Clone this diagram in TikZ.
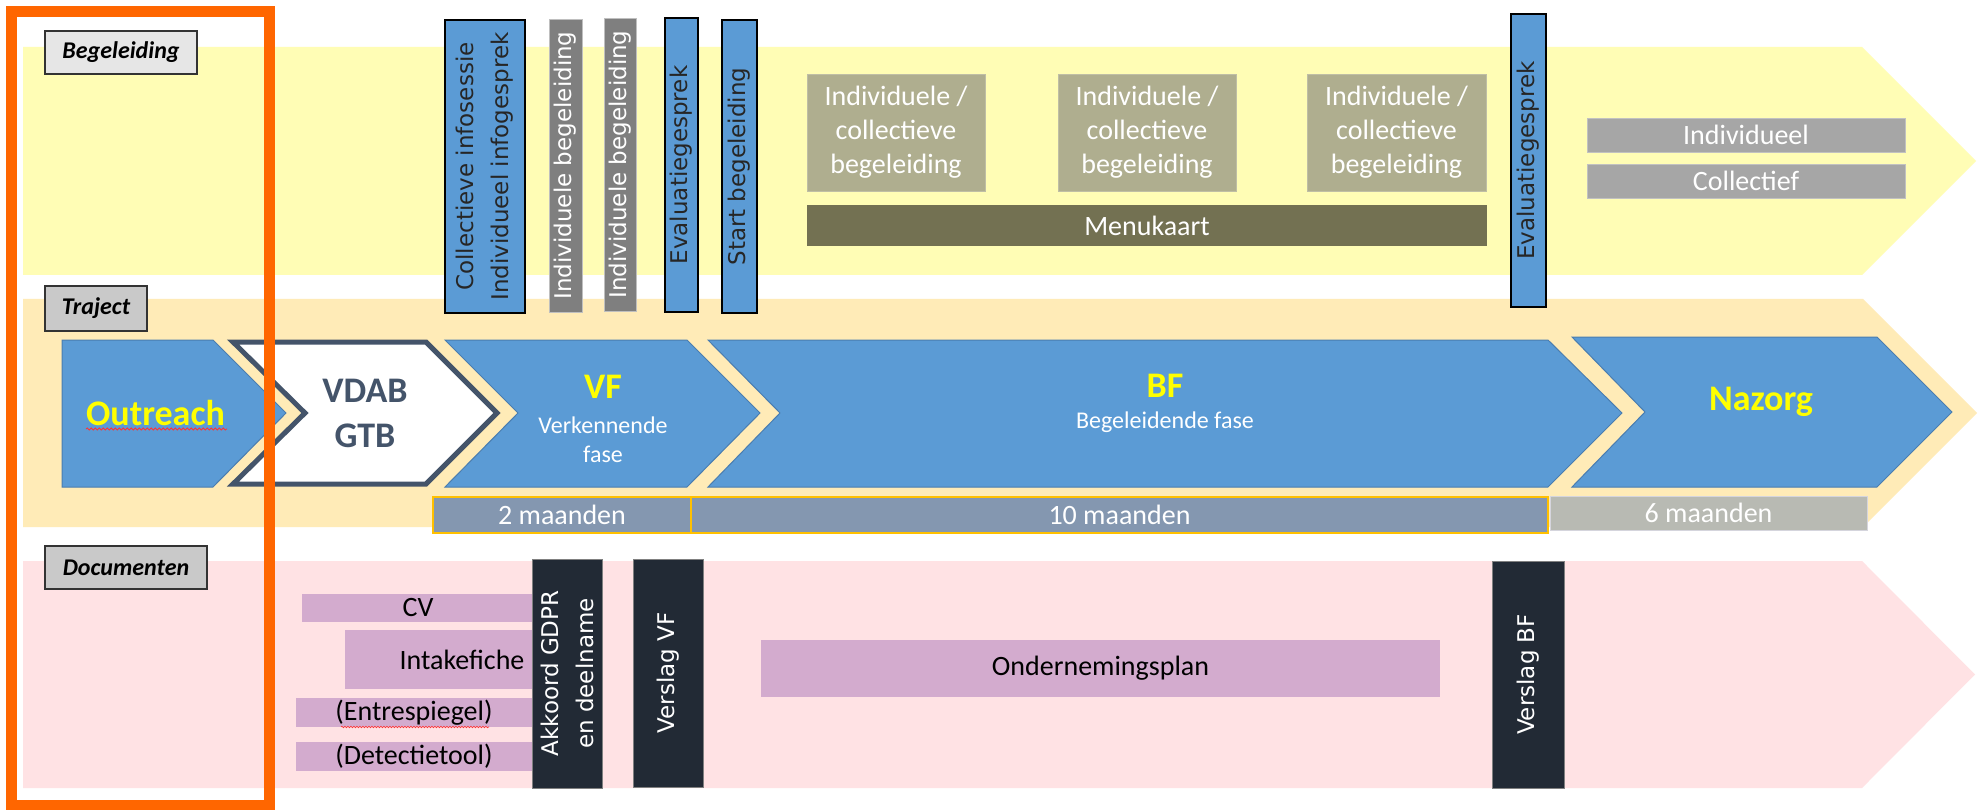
\documentclass[tikz,border=0pt]{standalone}
\usepackage{fontspec}
\setmainfont{Carlito}
\newfontfamily\vfont{DejaVu Sans}
\usetikzlibrary{decorations.pathmorphing}
\definecolor{ybandc}{HTML}{FFFDB5}
\definecolor{tbandc}{HTML}{FFEBB7}
\definecolor{dbandc}{HTML}{FFE2E4}
\definecolor{orangec}{HTML}{FF6600}
\definecolor{bluec}{HTML}{5B9BD5}
\definecolor{blueedge}{HTML}{4A7DB0}
\definecolor{slatec}{HTML}{44546A}
\definecolor{grayc}{HTML}{7F7F7F}
\definecolor{olivec}{HTML}{AFAE8F}
\definecolor{menuc}{HTML}{737152}
\definecolor{lgrayc}{HTML}{A6A6A6}
\definecolor{durc}{HTML}{8497B0}
\definecolor{goldc}{HTML}{FFC000}
\definecolor{dursix}{HTML}{B8BAB3}
\definecolor{purplec}{HTML}{D3ABCE}
\definecolor{darkc}{HTML}{222A35}
\definecolor{lblA}{HTML}{E6E6E6}
\definecolor{lblB}{HTML}{C9C9C9}
\definecolor{textdark}{HTML}{262626}
\definecolor{yelc}{HTML}{FFFF00}
\begin{document}
\begin{tikzpicture}[x=1pt,y=-1pt,
  lbl/.style={draw=black!80, line width=1.5pt, inner sep=0pt, font=\fontsize{24}{28}\selectfont\bfseries\itshape},
  chev/.style={fill=bluec, draw=blueedge, line width=1pt},
  head/.style={font=\fontsize{36}{44}\selectfont\bfseries, text=yelc, anchor=base},
  sub/.style={font=\fontsize{24}{29}\selectfont, text=white, anchor=base, align=center},
  vbar/.style={rotate=90, inner sep=0pt, align=center, font=\vfont\fontsize{23}{35}\selectfont},
  bluebar/.style={vbar, fill=bluec, draw=black, line width=1.5pt, text=textdark},
  graybar/.style={vbar, fill=grayc, draw=black!25, line width=0.8pt, text=white},
  darkbar/.style={vbar, fill=darkc, draw=black!50, line width=0.8pt, text=white},
  olive/.style={fill=olivec, draw=olivec!80!white, line width=0.8pt, inner sep=0pt, align=center, text=white, font=\fontsize{28}{34}\selectfont},
  lgbox/.style={fill=lgrayc, draw=lgrayc!70!white, line width=0.8pt, inner sep=0pt, text=white, font=\fontsize{28}{34}\selectfont},
  dur/.style={fill=durc, draw=goldc, line width=1.5pt, inner sep=0pt, text=white, font=\fontsize{28}{34}\selectfont},
  purp/.style={fill=purplec, inner sep=0pt, text=black, font=\fontsize{28}{34}\selectfont},
  wavy/.style={draw=red!80, line width=0.8pt, decorate, decoration={snake, amplitude=1pt, segment length=4pt}}
]
\useasboundingbox (0,0) rectangle (1986,810);
\fill[white] (0,0) rectangle (1986,810);

% bands
\fill[ybandc] (23,47) -- (1862,47) -- (1976,161) -- (1862,275) -- (23,275) -- cycle;
\fill[tbandc] (23,299) -- (1863,299) -- (1977,413) -- (1863,527) -- (23,527) -- cycle;
\fill[dbandc] (23,561) -- (1862,561) -- (1975,674.5) -- (1862,788) -- (23,788) -- cycle;

% labels
\node[lbl, fill=lblA, minimum width=152pt, minimum height=43pt] (lbeg) at (121,52.5) {Begeleiding};
\node[lbl, fill=lblB, minimum width=102pt, minimum height=45pt] (ltraj) at (96,308.5) {Traject};
\node[lbl, fill=lblB, minimum width=162pt, minimum height=43pt] (ldoc) at (126,567.5) {Documenten};

% chevrons
\path[chev] (62,340) -- (213,340) -- (286,413) -- (213,487) -- (62,487) -- cycle;
\path[fill=white, draw=slatec, line width=5pt, line join=miter] (233,342) -- (426,342) -- (497,413) -- (426,484) -- (233,484) -- (305,413) -- cycle;
\path[chev] (445,340) -- (687,340) -- (760,413) -- (687,487) -- (445,487) -- (518,413) -- cycle;
\path[chev] (708,340) -- (1548,340) -- (1622,413) -- (1548,487) -- (708,487) -- (780,413) -- cycle;
\path[chev] (1572,337) -- (1877,337) -- (1952,412) -- (1877,487) -- (1572,487) -- (1645,412) -- cycle;

\node[head] (outreach) at (155.5,425) {Outreach};
\draw[wavy] (86,429) -- (227,429);
\node[head, text=slatec] (vdab) at (365,402) {VDAB};
\node[head, text=slatec] (gtb) at (365,447) {GTB};
\node[head] (vf) at (603,398) {VF};
\node[sub] (vfsub) at (603,433) {Verkennende};
\node[sub] (vfsub2) at (603,462) {fase};
\node[head] (bf) at (1165,397) {BF};
\node[sub] (bfsub) at (1165,428) {Begeleidende fase};
\node[head] (nazorg) at (1761,410) {Nazorg};

% durations
\node[dur, minimum width=258pt, minimum height=36pt] (d2) at (562,515) {2 maanden};
\node[dur, minimum width=857pt, minimum height=36pt] (d10) at (1119.5,515) {10 maanden};
\node[fill=dursix, draw=blue!10!gray!30, line width=0.8pt, inner sep=0pt, text=white, font=\fontsize{28}{34}\selectfont, minimum width=317pt, minimum height=34pt] (d6) at (1708.5,513) {6 maanden};

% top vertical bars
\node[bluebar, minimum width=293pt, minimum height=80pt] (coll) at (485,166.5) {Collectieve infosessie\\Individueel infogesprek};
\node[graybar, minimum width=293pt, minimum height=33pt] (ib1) at (565.5,165.5) {Individuele begeleiding};
\node[graybar, minimum width=293pt, minimum height=32pt] (ib2) at (620,164.5) {Individuele begeleiding};
\node[bluebar, minimum width=294pt, minimum height=33pt] (eval1) at (681.5,165) {Evaluatiegesprek};
\node[bluebar, minimum width=293pt, minimum height=35pt] (start) at (739.5,166.5) {Start begeleiding};
\node[bluebar, minimum width=293pt, minimum height=35pt] (eval2) at (1528.5,160.5) {Evaluatiegesprek};

% olive boxes
\node[olive, minimum width=178pt, minimum height=117pt] (ic1) at (896,132.5) {Individuele /\\collectieve\\begeleiding};
\node[olive, minimum width=178pt, minimum height=117pt] (ic2) at (1147,132.5) {Individuele /\\collectieve\\begeleiding};
\node[olive, minimum width=179pt, minimum height=117pt] (ic3) at (1396.5,132.5) {Individuele /\\collectieve\\begeleiding};
\node[fill=menuc, inner sep=0pt, text=white, font=\fontsize{28}{34}\selectfont, minimum width=680pt, minimum height=41pt] (menu) at (1147,225.5) {Menukaart};
\node[lgbox, minimum width=318pt, minimum height=34pt] (indiv) at (1746,135) {Individueel};
\node[lgbox, minimum width=318pt, minimum height=34pt] (collf) at (1746,181) {Collectief};

% documents
\node[purp, minimum width=232pt, minimum height=28pt] (cv) at (418,608) {CV};
\node[purp, minimum width=234pt, minimum height=59pt] (intake) at (462,659.5) {Intakefiche};
\node[purp, minimum width=236pt, minimum height=29pt] (entre) at (414,712.5) {(Entrespiegel)};
\draw[wavy, line width=0.6pt, decoration={snake, amplitude=0.8pt, segment length=3pt}] (341,727) -- (489,727);
\node[purp, minimum width=236pt, minimum height=29pt] (detect) at (414,756.5) {(Detectietool)};
\node[darkbar, minimum width=229pt, minimum height=70pt] (akkoord) at (567,673.5) {Akkoord GDPR\\en deelname};
\node[darkbar, minimum width=228pt, minimum height=70pt] (vvf) at (668,673) {Verslag VF};
\node[purp, minimum width=679pt, minimum height=57pt] (plan) at (1100.5,668.5) {Ondernemingsplan};
\node[darkbar, minimum width=227pt, minimum height=72pt] (vbf) at (1528,674.5) {Verslag BF};

% orange frame
\draw[orangec, line width=11pt] (11.5,12) rectangle (269,805);
\end{tikzpicture}
\end{document}
